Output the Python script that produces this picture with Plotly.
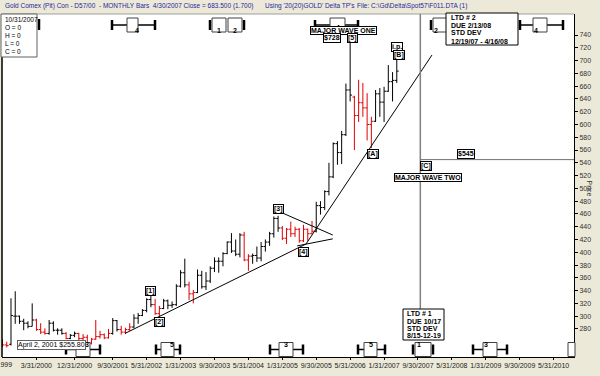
import plotly.graph_objects as go

# ---------------- data ----------------
START_YEAR, START_MONTH = 1999, 7   # first monthly bar: July 1999

opens = [262, 255, 256, 300, 300, 292,
         289, 284, 294, 279, 275, 273, 289, 278, 278, 273, 265, 270,
         273, 265, 267, 258, 264, 268, 271, 266, 273, 293, 279, 275,
         279, 283, 297, 301, 309, 326, 318, 304, 312, 324, 317, 318,
         347, 368, 349, 335, 337, 364, 346, 355, 375, 386, 386, 398,
         416, 402, 397, 427, 388, 394, 395, 391, 409, 416, 429, 453,
         438, 422, 436, 429, 436, 418, 436, 429, 433, 473, 470, 495,
         518, 570, 556, 584, 654, 643, 614, 634, 626, 600, 605, 648,
         635, 652, 667, 669]
highs = [264, 260, 328, 339, 301, 296,
         292, 320, 296, 289, 281, 294, 292, 281, 281, 275, 272, 276,
         274, 272, 271, 266, 294, 277, 273, 280, 297, 294, 285, 282,
         289, 303, 305, 311, 328, 332, 327, 316, 327, 326, 323, 350,
         372, 390, 354, 341, 373, 371, 369, 378, 392, 392, 400, 417,
         430, 420, 430, 432, 397, 398, 409, 416, 420, 432, 456, 457,
         441, 438, 448, 440, 438, 443, 437, 449, 479, 480, 497, 540,
         572, 574, 590, 664, 728, 645, 670, 665, 649, 612, 654, 657,
         659, 693, 682, 701]
lows = [252, 251, 254, 288, 288, 278,
        281, 284, 277, 272, 271, 271, 276, 271, 271, 264, 264, 267,
        262, 256, 257, 255.8, 263, 265, 264, 265, 271, 276, 271, 272,
        277, 281, 288, 300, 306, 314, 302, 300, 311, 311, 313, 316,
        345, 345, 325, 320, 336, 343, 341, 352, 369, 368, 378, 397,
        399, 394, 392, 386, 371, 382, 385, 386, 401, 410, 423, 432,
        419, 413, 424, 424, 415, 416, 418, 429, 431, 459, 466, 489,
        516, 537, 538, 582, 636, 560, 604, 612, 575, 563, 604, 612,
        604, 651, 636, 665]
closes = [255, 254, 301, 300, 292, 289,
          284, 294, 279, 275, 273, 289, 278, 278, 273, 265, 270, 273,
          265, 267, 258, 264, 268, 271, 266, 273, 293, 279, 275, 279,
          283, 297, 301, 309, 326, 318, 304, 312, 324, 317, 318, 347,
          368, 349, 335, 337, 364, 346, 355, 375, 386, 386, 398, 416,
          402, 397, 427, 388, 394, 395, 391, 409, 416, 429, 453, 438,
          422, 436, 429, 436, 418, 436, 429, 433, 473, 470, 495, 518,
          570, 556, 584, 654, 646, 614, 634, 626, 600, 605, 648, 635,
          652, 667, 669, 683.5]
# 1 = bar belongs to a corrective leg (drawn red)
corrective = [1, 1, 0, 0, 0, 0,
              0, 0, 1, 1, 1, 0, 0, 0, 0, 1, 0, 0,
              1, 1, 1, 1, 1, 1, 1, 1, 0, 0, 1, 1,
              1, 0, 0, 0, 0, 0, 1, 1, 0, 0, 0, 0,
              0, 0, 1, 1, 0, 0, 0, 0, 0, 0, 0, 0,
              0, 0, 0, 1, 1, 0, 0, 0, 0, 0, 0, 0,
              1, 1, 1, 1, 1, 1, 1, 1, 0, 0, 0, 0,
              0, 0, 0, 0, 0, 1, 1, 1, 1, 1, 0, 0,
              0, 0, 0, 0]

first_tick_label = "7/31/1999"
tick_labels = ["3/31/2000", "12/31/2000", "9/30/2001", "5/31/2002", "1/31/2003",
               "9/30/2003", "5/31/2004", "1/31/2005", "9/30/2005", "5/31/2006",
               "1/31/2007", "9/30/2007", "5/31/2008", "1/31/2009", "9/30/2009",
               "5/31/2010"]
price_ticks = list(range(280, 741, 20))

# trend lines (month index, price)
trend_i = [28.9, 71.6, 101.3]
trend_p = [273, 413, 708.7]
tri_up_i = [66.2, 77.9]
tri_up_p = [461, 427]
tri_lo_i = [69.5, 77.9]
tri_lo_p = [410, 421]

ltd1_due = 98.55        # 10/17/2007 as month index
target_price = 545

# ---------------- helpers ----------------
N = len(opens)
xs = list(range(N))


def month_index(label):
    m, d, y = (int(v) for v in label.split("/"))
    return (y - START_YEAR) * 12 + (m - START_MONTH)


BG = "#ECE9D8"
FONT = "Liberation Sans, Arial, sans-serif"
PL, PR, PT, PB = 2, 574, 14, 357   # plot box in pixels


def fx(px):
    return (px - PL) / (PR - PL)


def fy(py):
    return (PB - py) / (PB - PT)


fig = go.Figure()

for flag, col in ((0, "black"), (1, "#e00000")):
    idx = [k for k in range(N) if corrective[k] == flag]
    fig.add_trace(go.Ohlc(
        x=[xs[k] for k in idx], open=[opens[k] for k in idx],
        high=[highs[k] for k in idx], low=[lows[k] for k in idx],
        close=[closes[k] for k in idx],
        increasing=dict(line=dict(color=col, width=1)),
        decreasing=dict(line=dict(color=col, width=1)),
        tickwidth=0.45, hoverinfo="skip", showlegend=False))

for xi, yp in ((trend_i, trend_p), (tri_up_i, tri_up_p), (tri_lo_i, tri_lo_p)):
    fig.add_trace(go.Scatter(x=xi, y=yp, mode="lines",
                             line=dict(color="black", width=1),
                             hoverinfo="skip", showlegend=False))

shapes = []
anns = []

# frame lines
shapes.append(dict(type="line", xref="paper", yref="paper", x0=fx(2), x1=fx(2),
                   y0=0, y1=1, line=dict(color="black", width=1.5)))
shapes.append(dict(type="line", xref="paper", yref="paper", x0=0, x1=1,
                   y0=1, y1=1, line=dict(color="#a0a0a0", width=1)))

# LTD #1 vertical & target line
shapes.append(dict(type="line", xref="x", yref="paper", x0=ltd1_due, x1=ltd1_due,
                   y0=fy(309), y1=1, line=dict(color="#808080", width=1.5)))
shapes.append(dict(type="line", xref="x", yref="y", x0=ltd1_due, x1=134.8,
                   y0=target_price, y1=target_price, line=dict(color="#707070", width=1)))


def cyc_box(num, bl, br, ymid, bar=None, caps=(), dy=0):
    cap_list = list(caps)
    if bar:
        shapes.append(dict(type="line", xref="paper", yref="paper", x0=fx(bar[0]), x1=fx(bar[1]),
                           y0=fy(ymid), y1=fy(ymid), line=dict(color="black", width=1.5)))
        cap_list += [bar[0], bar[1]]
    for c in cap_list:
        shapes.append(dict(type="line", xref="paper", yref="paper", x0=fx(c), x1=fx(c),
                           y0=fy(ymid - 5), y1=fy(ymid + 5), line=dict(color="black", width=2.5)))
    shapes.append(dict(type="rect", xref="paper", yref="paper", x0=fx(bl), x1=fx(br),
                       y0=fy(ymid - 7), y1=fy(ymid + 7), fillcolor="white",
                       line=dict(color="#404040", width=1)))
    if num:
        anns.append(dict(text=f"<b>{num}</b>", xref="paper", yref="paper",
                         x=fx((bl + br) / 2), y=fy(ymid + dy), showarrow=False,
                         font=dict(size=7, color="black", family=FONT)))


TOP, BOT = 25, 349.5
shapes.append(dict(type="line", xref="paper", yref="paper", x0=fx(39), x1=fx(39),
                   y0=fy(TOP - 6), y1=fy(TOP + 5), line=dict(color="black", width=2.5)))
cyc_box("4", 127, 138, TOP, bar=(112, 155))
cyc_box("1", 212, 226, TOP, caps=[210])
cyc_box("2", 228, 242, TOP, caps=[244])
cyc_box("4", 330, 345, TOP, bar=(315, 358), dy=-3)
cyc_box("2", 433, 447, TOP, caps=[431])
cyc_box("4", 533, 547, TOP, bar=(520, 563))
cyc_box("3", 76, 90, BOT, bar=(66, 100))
cyc_box("5", 161, 174, BOT, bar=(156, 180))
cyc_box("3", 279, 293, BOT, bar=(270, 303))
cyc_box("5", 364, 377, BOT, bar=(358, 385))
cyc_box("1", 415, 431, BOT, caps=[413, 433])
cyc_box("3", 483, 497, BOT, bar=(473, 507))
cyc_box("", 568, 575, BOT)

# info box (top-left)
shapes.append(dict(type="rect", xref="paper", yref="paper", x0=fx(1), x1=fx(37),
                   y0=fy(57), y1=fy(14), fillcolor="white", line=dict(color="#606060", width=1)))
for k, t in enumerate(["10/31/2007", "O = 0", "H = 0", "L = 0", "C = 0"]):
    anns.append(dict(text=t, xref="paper", yref="paper", x=fx(2.5), y=fy(19 + k * 8.2),
                     xanchor="left", yanchor="middle", showarrow=False,
                     font=dict(size=6.5, color="black", family=FONT)))


# LTD boxes
def ltd_box(x0, x1, y0, y1, lines, ys, tx):
    shapes.append(dict(type="rect", xref="paper", yref="paper", x0=fx(x0), x1=fx(x1),
                       y0=fy(y1), y1=fy(y0), fillcolor="white", line=dict(color="black", width=1)))
    for t, yy in zip(lines, ys):
        anns.append(dict(text=f"<b>{t}</b>", xref="paper", yref="paper", x=fx(tx), y=fy(yy),
                         xanchor="left", yanchor="middle", showarrow=False,
                         font=dict(size=7, color="black", family=FONT)))


ltd_box(446, 518, 13, 45, ["LTD # 2", "DUE 2/13/08", "STD DEV", "12/19/07 - 4/16/08"],
        [18, 25.5, 33, 41], 449)
ltd_box(403, 444, 309, 340, ["LTD # 1", "DUE 10/17", "STD DEV", "8/15-12-19"],
        [313.5, 321, 328.5, 335.5], 405)


def label(text, cx, cy, bold=True, border="black"):
    anns.append(dict(text=f"<b>{text}</b>" if bold else text, xref="paper", yref="paper",
                     x=fx(cx), y=fy(cy), showarrow=False, xanchor="center", yanchor="middle",
                     font=dict(size=7, color="black", family=FONT), bgcolor="white",
                     bordercolor=border, borderwidth=1, borderpad=0))


label("MAJOR WAVE ONE", 343.5, 30)
label("$728", 332, 38.5)
label("[5]", 352, 38.5)
label("i.p.", 397, 47.5)
label("[B]", 399, 55.5)
label("[A]", 372.5, 153.5)
label("$545", 466, 153.5)
label("[C]", 426, 166)
label("MAJOR WAVE TWO", 427.5, 177)
label("[3]", 278, 209.5)
label("[4]", 303.5, 252.5)
label("[1]", 150, 291)
label("[2]", 159, 322)
label("April 2, 2001 $255.80", 51.5, 344.5, bold=False, border="#606060")

# header
HDR = "#1f1f9f"
for t, x in (("Gold Comex (Pit) Con - D57/00  - MONTHLY Bars  4/30/2007 Close = 683.500 (1.700)", 3),
             ("Using '20(20)GOLD' Delta TP's", 263),
             ("File: C:\\Gd\\Delta\\Spot57\\F011.DTA (1)", 355)):
    anns.append(dict(text=t, xref="paper", yref="paper", x=fx(x), y=fy(6.5), xanchor="left",
                     yanchor="middle", showarrow=False, font=dict(size=6.5, color=HDR, family=FONT)))

anns.append(dict(text="Price", xref="paper", yref="paper", x=fx(595), y=fy(188), textangle=90,
                 showarrow=False, font=dict(size=7, color="#333333", family=FONT)))
# first date label, cut by the left edge of the window as in the original
anns.append(dict(text=first_tick_label, xref="paper", yref="paper", x=fx(14), y=fy(365),
                 xanchor="right", yanchor="middle", showarrow=False,
                 font=dict(size=7, color="#222222", family=FONT)))

fig.update_layout(
    width=600, height=376, margin=dict(l=PL, r=600 - PR, t=PT, b=376 - PB),
    paper_bgcolor=BG, plot_bgcolor="white", showlegend=False,
    font=dict(family=FONT, size=7, color="#222222"),
    shapes=shapes, annotations=anns,
    xaxis=dict(range=[-0.12, 134.8], tickmode="array",
               tickvals=[month_index(t) for t in tick_labels], ticktext=tick_labels,
               showgrid=False, zeroline=False, showline=True, linecolor="black", linewidth=1,
               ticks="outside", ticklen=2, tickcolor="black", automargin=False,
               tickfont=dict(size=7, color="#222222", family=FONT),
               rangeslider=dict(visible=False), fixedrange=True),
    yaxis=dict(side="right", range=[236.1, 772.9], tickmode="array", tickvals=price_ticks,
               showgrid=False, zeroline=False, showline=True, linecolor="black", linewidth=1,
               ticks="outside", ticklen=3, tickcolor="black", automargin=False,
               tickfont=dict(size=7, color="#333333", family=FONT), fixedrange=True),
)

fig.write_html("out.html", config={"displayModeBar": False},
               post_script="document.body.style.margin='0px';"
                           "document.body.style.overflow='hidden';"
                           f"document.body.style.background='{BG}';")
